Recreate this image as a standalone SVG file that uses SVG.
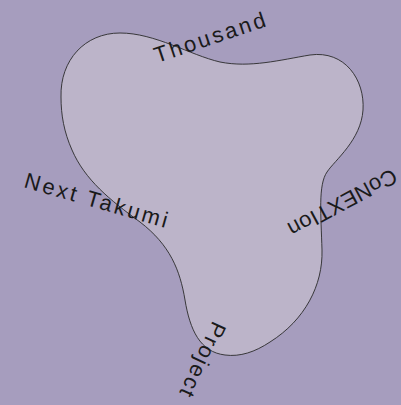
<svg xmlns="http://www.w3.org/2000/svg" width="401" height="405" viewBox="0 0 401 405">
<style>
.bg{fill:#a69dbe}
.blob{fill:#bcb4c9;stroke:#2a2a2a;stroke-width:0.9}
.lbl{font-family:"Liberation Sans",Arial,sans-serif;font-size:22px;fill:#1a1a1a}
</style>
<rect class="bg" x="0" y="0" width="401" height="405"/>
<g id="blob">
<path class="blob" d="M 61,97 C 60,60 85,33 120,33 C 155,33 190,55 220,62 C 250,68 280,60 310,55 C 345,50 365,80 363,110 C 361,140 335,160 327,172 C 318,185 321,215 322,250 C 323,285 305,320 270,342 C 255,352 240,357 225,355 C 200,352 190,330 185,300 C 180,270 170,245 140,222 C 110,200 85,180 72,150 C 64,132 61,115 61,97 Z"/>
</g>
<g id="node-thousand"><text class="lbl" transform="translate(157,63) rotate(-18.5)" textLength="116" lengthAdjust="spacing">Thousand</text></g>
<g id="node-next-takumi"><text class="lbl" transform="translate(23,187) rotate(16)" textLength="148" lengthAdjust="spacing">Next Takumi</text></g>
<g id="node-conextion"><text class="lbl" transform="translate(392,168) rotate(152)" textLength="120" lengthAdjust="spacing">CoNEXTIon</text></g>
<g id="node-project"><text class="lbl" transform="translate(213,320) rotate(115)" textLength="80" lengthAdjust="spacing">Project</text></g>
<g id="connectors"></g>
</svg>
